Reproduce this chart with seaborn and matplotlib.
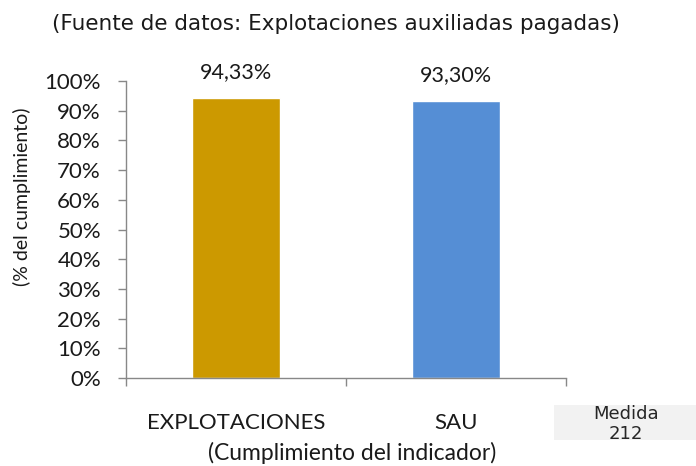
import matplotlib
matplotlib.use("Agg")
import matplotlib.pyplot as plt
import seaborn as sns
import pandas as pd
from matplotlib.patches import Rectangle
from matplotlib.ticker import FuncFormatter, MultipleLocator, FixedLocator

# datos del indicador
categorias = ["EXPLOTACIONES", "SAU"]
cumplimiento = [94.33, 93.30]
colores = ["#CC9900", "#558ED5"]

df = pd.DataFrame({"indicador": categorias, "valor": cumplimiento})

sns.set_style("white")
plt.rcParams["font.family"] = ["Lato", "DejaVu Sans"]

W, H = 696, 466
fig = plt.figure(figsize=(W / 100, H / 100), dpi=100)
ax = fig.add_axes([126 / W, (H - 378) / H, 440 / W, 297 / H])

sns.barplot(data=df, x="indicador", y="valor", hue="indicador", palette=colores,
            width=0.4, saturation=1, legend=False, ax=ax)

# etiquetas de valor
for i, v in enumerate(cumplimiento):
    ax.text(i, v + 8.8, f"{v:.2f}%".replace(".", ","), ha="center", va="center",
            fontsize=15.5, color="#1a1a1a")

ax.set_ylim(0, 100)
ax.set_xlim(-0.5, 1.5)
ax.yaxis.set_major_locator(MultipleLocator(10))
ax.yaxis.set_major_formatter(FuncFormatter(lambda y, _: f"{y:.0f}%"))
ax.xaxis.set_minor_locator(FixedLocator([-0.5, 0.5, 1.5]))
ax.set_xlabel("")
ax.set_ylabel("")

for s in ["top", "right"]:
    ax.spines[s].set_visible(False)
for s in ["left", "bottom"]:
    ax.spines[s].set_color("#888888")
    ax.spines[s].set_linewidth(1)

ax.tick_params(axis="y", which="major", left=True, length=6, width=1, color="#888888",
               labelsize=16, pad=12, labelcolor="#1a1a1a")
ax.tick_params(axis="x", which="major", bottom=False, length=0, labelsize=16, pad=25,
               labelcolor="#1a1a1a")
ax.tick_params(axis="x", which="minor", bottom=True, length=6, width=1, color="#888888")

# titulo y ejes
fig.text(336 / W, (H - 24) / H, "(Fuente de datos: Explotaciones auxiliadas pagadas)",
         ha="center", va="center", fontsize=15.5, family="DejaVu Sans", color="#1a1a1a")
fig.text(22 / W, (H - 197) / H, "(% del cumplimiento)", rotation=90, ha="center",
         va="center", fontsize=14, color="#1a1a1a")
fig.text(352 / W, (H - 453) / H, "(Cumplimiento del indicador)", ha="center",
         va="center", fontsize=16.5, color="#1a1a1a")

# recuadro de la medida
fig.patches.append(Rectangle((554 / W, (H - 440) / H), 142 / W, 35 / H,
                             transform=fig.transFigure, facecolor="#F2F2F2",
                             edgecolor="none", zorder=0))
fig.text(626 / W, (H - 424) / H, "Medida\n212", ha="center", va="center",
         fontsize=13, family="DejaVu Sans", linespacing=1.1, color="#262626")

fig.savefig("out.png", dpi=100)
